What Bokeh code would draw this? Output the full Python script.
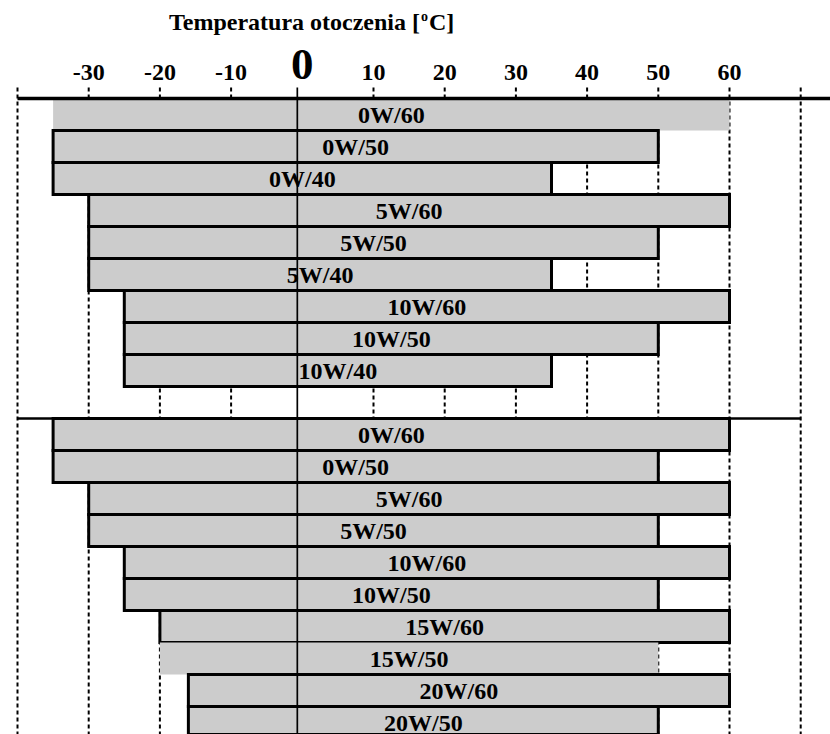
from bokeh.plotting import figure
from bokeh.models import Range1d, ColumnDataSource
from bokeh.embed import file_html
from bokeh.resources import INLINE
from bokeh.core.properties import value

# ---------------- data ----------------
tick_values = [-30, -20, -10, 10, 20, 30, 40, 50, 60]
tick_labels = ["-30", "-20", "-10", "10", "20", "30", "40", "50", "60"]
zero_value = 0
zero_label = "0"
grid_values = [-40, -30, -20, -10, 10, 20, 30, 40, 50, 60, 70]

group1_labels = ["0W/60", "0W/50", "0W/40", "5W/60", "5W/50", "5W/40",
                 "10W/60", "10W/50", "10W/40"]
group1_low = [-35, -35, -35, -30, -30, -30, -25, -25, -25]
group1_high = [60, 50, 35, 60, 50, 35, 60, 50, 35]

group2_labels = ["0W/60", "0W/50", "5W/60", "5W/50", "10W/60", "10W/50",
                 "15W/60", "15W/50", "20W/60", "20W/50"]
group2_low = [-35, -35, -30, -30, -25, -25, -20, -20, -16, -16]
group2_high = [60, 50, 60, 50, 60, 50, 60, 50, 60, 50]

title_main = "Temperatura otoczenia ["
title_sup = "o"
title_end = "C]"

# ---------------- geometry ----------------
W, H = 830, 734
X0_PX = 301.8      # canvas x of 0 degrees
PX_PER_DEG = 7.12
TOP_PX = 98.0      # canvas y of top of first row
ROW_PX = 32.0
BASE_SHIFT = 0.345  # svg baseline correction (fraction of font size)

def sx(px):
    return (px - X0_PX) / PX_PER_DEG

def sy(px):
    return (px - TOP_PX) / ROW_PX

def base(px, fs):
    return sy(px - BASE_SHIFT * fs)

x_range = Range1d(sx(0), sx(W))
y_range = Range1d(sy(H), sy(0))   # flipped: rows go downward

p = figure(width=W, height=H, x_range=x_range, y_range=y_range,
           output_backend="svg", toolbar_location=None,
           x_axis_type=None, y_axis_type=None, min_border=0,
           outline_line_color=None, background_fill_color="white",
           border_fill_color="white")
p.grid.visible = False

FONT = value("Liberation Serif")

# rows
rows1 = list(range(len(group1_labels)))
start2 = len(group1_labels) + 1
rows2 = [start2 + i for i in range(len(group2_labels))]

rows = rows1 + rows2
labels = group1_labels + group2_labels
lows = group1_low + group2_low
highs = group1_high + group2_high
no_outline = {0, len(group1_labels) + 7}
LABEL_FS = 24
label_off = (25.0 - BASE_SHIFT * LABEL_FS) / ROW_PX
src = ColumnDataSource(dict(
    y=[r + 0.5 for r in rows],
    ty=[r + label_off for r in rows],
    left=lows, right=highs,
    mid=[(a + b) / 2 for a, b in zip(lows, highs)],
    label=labels,
    la=[0.0 if i in no_outline else 1.0 for i in range(len(rows))],
))

# dashed grid lines (under bars)
g_top = sy(87)
g_bot = sy(H + 10)
p.segment(x0=grid_values, y0=[g_top] * len(grid_values),
          x1=grid_values, y1=[g_bot] * len(grid_values),
          line_color="black", line_width=2, line_dash="4 3")

# bars
p.hbar(y="y", height=1, left="left", right="right", source=src,
       fill_color="#cccccc", line_color="black", line_width=3,
       line_alpha="la", line_join="miter")

# zero reference line
p.segment(x0=[zero_value - 0.7], y0=[g_top], x1=[zero_value - 0.7], y1=[g_bot],
          line_color="black", line_width=1.7)

# top axis line
p.segment(x0=[grid_values[0]], y0=[0], x1=[sx(W + 5)], y1=[0],
          line_color="black", line_width=3.5)
# separator between the groups
p.segment(x0=[grid_values[0]], y0=[start2], x1=[grid_values[-1]], y1=[start2],
          line_color="black", line_width=2.5)

# bar labels
p.text(x="mid", y="ty", text="label", source=src, text_font=FONT,
       text_font_style="bold", text_font_size=f"{LABEL_FS}px", text_align="center",
       text_baseline="alphabetic", text_color="black")

# tick labels
p.text(x=tick_values, y=[base(80, 24)] * len(tick_values), text=tick_labels,
       text_font=FONT, text_font_style="bold", text_font_size="24px",
       text_align="center", text_baseline="alphabetic", text_color="black")
p.text(x=[zero_value], y=[base(80, 45)], text=[zero_label],
       text_font=FONT, text_font_style="bold", text_font_size="45px",
       text_align="center", text_baseline="alphabetic", text_color="black")

# title with superscript
p.text(x=[sx(419.5)], y=[base(30, 24)], text=[title_main], text_font=FONT,
       text_font_style="bold", text_font_size="24px", text_align="right",
       text_baseline="alphabetic", text_color="black")
p.text(x=[sx(420.5)], y=[base(21, 14)], text=[title_sup], text_font=FONT,
       text_font_style="bold", text_font_size="14px", text_align="left",
       text_baseline="alphabetic", text_color="black")
p.text(x=[sx(428.5)], y=[base(30, 24)], text=[title_end], text_font=FONT,
       text_font_style="bold", text_font_size="24px", text_align="left",
       text_baseline="alphabetic", text_color="black")

open("out.html", "w").write(file_html(p, INLINE))
